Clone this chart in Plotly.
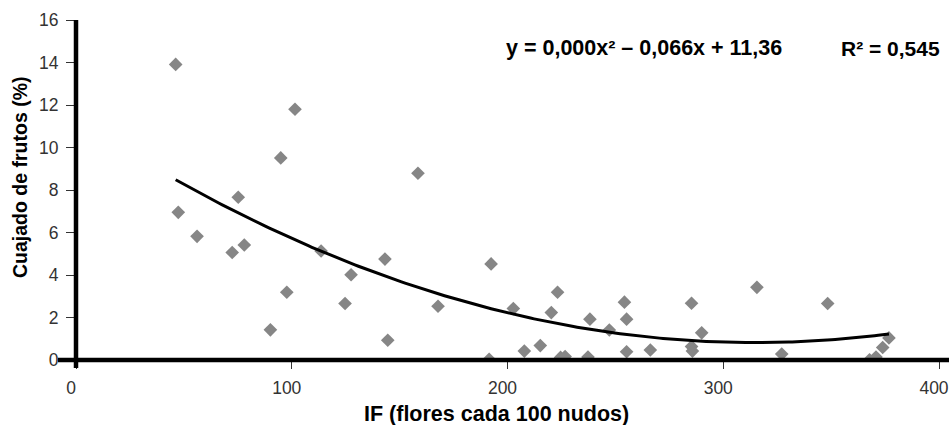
import numpy as np
import plotly.graph_objects as go

# Data
if_flores = [46.2, 101.5, 94.9, 158.5, 75.2, 47.4, 56.1, 72.4, 78.0, 113.6,
             143.2, 127.5, 97.7, 124.7, 90.1, 144.5, 167.8, 192.4, 191.5, 202.7,
             207.8, 215.2, 220.3, 223.2, 224.6, 226.7, 237.3, 238.2, 247.2, 254.2,
             255.2, 255.2, 266.2, 285.3, 290.0, 285.3, 285.7, 315.6, 327.1, 348.4,
             367.8, 370.8, 373.9, 376.8]
cuajado = [13.91, 11.80, 9.51, 8.79, 7.66, 6.95, 5.82, 5.06, 5.41, 5.13,
           4.75, 4.01, 3.19, 2.66, 1.42, 0.93, 2.53, 4.52, 0.03, 2.42,
           0.42, 0.68, 2.23, 3.19, 0.12, 0.16, 0.14, 1.92, 1.41, 2.72,
           1.92, 0.39, 0.47, 2.67, 1.28, 0.63, 0.42, 3.42, 0.28, 2.66,
           0.01, 0.14, 0.59, 1.04]

x_ticks = [0, 100, 200, 300, 400]
y_ticks = [0, 2, 4, 6, 8, 10, 12, 14, 16]

equation_text = "y = 0,000x² – 0,066x + 11,36"
r2_text = "R² = 0,545"
x_title = "IF (flores cada 100 nudos)"
y_title = "Cuajado de frutos (%)"

# Second-order polynomial trend line fitted to the data
coef = np.polyfit(if_flores, cuajado, 2)
xs = np.linspace(min(if_flores), max(if_flores), 200)
ys = np.polyval(coef, xs)

FONT = "Liberation Sans, Arial, Helvetica, sans-serif"

fig = go.Figure()
fig.add_trace(go.Scatter(
    x=if_flores, y=cuajado, mode="markers",
    marker=dict(symbol="diamond", size=10.5, color="#868686", line=dict(width=0)),
    showlegend=False, hoverinfo="x+y"))
fig.add_trace(go.Scatter(
    x=xs, y=ys, mode="lines", line=dict(color="black", width=3),
    showlegend=False, hoverinfo="skip"))

fig.update_layout(
    width=949, height=425,
    margin=dict(l=76, r=10, t=20, b=65, autoexpand=False),
    plot_bgcolor="white", paper_bgcolor="white",
    font=dict(family=FONT, color="#222"),
    xaxis=dict(range=[0, 400], tickvals=x_ticks, ticks="outside", ticklen=8,
               tickwidth=1, tickcolor="#333", showgrid=False, zeroline=False,
               showline=False, tickfont=dict(size=17.5, color="#333"),
               ticklabelstandoff=4, ticklabelshift=-5, ticklabeloverflow="allow",
               automargin=False),
    yaxis=dict(range=[0, 16], tickvals=y_ticks, ticks="outside", ticklen=9,
               tickwidth=1, tickcolor="#333", showgrid=False, zeroline=False,
               showline=False, tickfont=dict(size=17.5, color="#333"),
               ticklabelstandoff=4, automargin=False),
    shapes=[
        dict(type="line", xref="paper", yref="paper", x0=-18/863, x1=1.02, y0=0, y1=0,
             line=dict(color="black", width=4.5)),
        dict(type="line", xref="paper", yref="paper", x0=0, x1=0, y0=-8/340, y1=1,
             line=dict(color="black", width=4.5)),
    ],
    annotations=[
        dict(text=equation_text, xref="paper", yref="paper",
             x=(504 - 76) / 863, y=(360 - 48) / 340, xanchor="left", yanchor="middle",
             showarrow=False, font=dict(size=21.5, color="black", family=FONT, weight="bold")),
        dict(text=r2_text, xref="paper", yref="paper",
             x=(942 - 76) / 863, y=(360 - 48) / 340, xanchor="right", yanchor="middle",
             showarrow=False, font=dict(size=21, color="black", family=FONT, weight="bold")),
        dict(text=x_title, xref="paper", yref="paper",
             x=(496 - 76) / 863, y=(360 - 414) / 340, xanchor="center", yanchor="middle",
             showarrow=False, font=dict(size=21.5, color="black", family=FONT, weight="bold")),
        dict(text=y_title, xref="paper", yref="paper", textangle=-90,
             x=(20 - 76) / 863, y=(360 - 177) / 340, xanchor="center", yanchor="middle",
             showarrow=False, font=dict(size=19.5, color="black", family=FONT, weight="bold")),
    ],
)

fig.write_html("out.html", config={"displayModeBar": False},
               post_script="document.body.style.margin='0';")
